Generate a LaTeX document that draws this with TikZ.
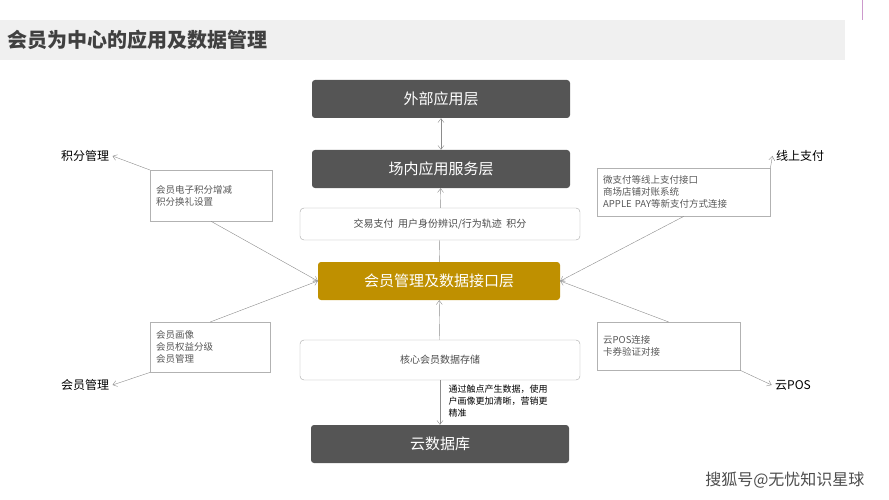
\documentclass[tikz,border=0pt]{standalone}
\usepackage{fontspec}
\setmainfont{Noto Sans CJK SC}
\usetikzlibrary{positioning}
\usetikzlibrary{arrows.meta}
\definecolor{layergray}{HTML}{555555}
\definecolor{layergold}{HTML}{BF9000}
\tikzset{
    layer/.style = {rectangle, rounded corners=3pt, fill=layergray, text=white, minimum width=258pt, minimum height=38pt, font=\fontsize{15}{15}\selectfont},
    layerg/.style = {layer, fill=layergold, minimum width=242pt},
    band/.style = {rectangle, rounded corners=4pt, draw=gray!70, fill=white, minimum width=280pt, text=black!70, font=\fontsize{10}{10}\selectfont},
    note/.style = {rectangle, draw=gray!60, fill=white, align=left, anchor=north west, inner sep=6pt, text=black!65, font=\fontsize{9.5}{12}\selectfont},
    tag/.style = {font=\fontsize{12}{12}\selectfont},
    edgen/.style = {-{Straight Barb[length=4pt,width=6pt]}, draw=gray!90, thin},
    edged/.style = {{Straight Barb[length=4pt,width=6pt]}-{Straight Barb[length=4pt,width=6pt]}, draw=gray!90, thin},
}
\begin{document}
\begin{tikzpicture}[x=1pt,y=-1pt]
  \useasboundingbox (0,0) rectangle (889,500);
  \fill[gray!12] (0,20) rectangle (845,60);
  \draw[violet!40, thick] (862,0) -- (862,20);
  \node[anchor=west, font=\fontsize{20}{20}\selectfont\bfseries, text=black!75] (title) at (4,40) {会员为中心的应用及数据管理};

  % layers
  \node[layer] (ext) at (441,99) {外部应用层};
  \node[layer] (svc) at (441,169) {场内应用服务层};
  \node[band, minimum height=32pt] (pay) at (440,224) {交易支付\ \ 用户身份辨识/行为轨迹\ \ 积分};
  \node[layerg] (mem) at (439,281) {会员管理及数据接口层};
  \node[band, minimum height=40pt] (core) at (440,360) {核心会员数据存储};
  \node[layer] (db) at (440,444) {云数据库};

  % side notes
  \node[note, text width=110pt, minimum height=51pt] (ln1) at (150,170) {会员电子积分增减\\积分换礼设置};
  \node[note, text width=108pt, minimum height=50pt] (ln2) at (150,322) {会员画像\\会员权益分级\\会员管理};
  \node[note, text width=161pt, minimum height=48pt] (rn1) at (597,168) {微支付等线上支付接口\\商场店铺对账系统\\APPLE PAY等新支付方式连接};
  \node[note, text width=131pt, minimum height=48pt] (rn2) at (597,322) {云POS连接\\卡券验证对接};

  \node[tag] (jf) at (85,156) {积分管理};
  \node[tag] (xs) at (800,156) {线上支付};
  \node[tag] (hy) at (85,385) {会员管理};
  \node[tag] (yp) at (793,385) {云POS};

  \node[anchor=north west, align=left, font=\fontsize{9}{12}\selectfont] (txt) at (445,381) {通过触点产生数据，使用\\户画像更加清晰，营销更\\精准};

  % connectors
  \draw[edged] (ext) -- (svc);
  \draw[edgen] (pay) -- (svc);
  \draw[gray!90, thin] (pay) -- (mem);
  \draw[edgen] (core) -- (mem);
  \draw[edgen] (core) -- (db);
  \draw[edgen] (ln1.north west) -- (jf.east);
  \draw[edgen] (ln1.south) -- (mem.west);
  \draw[edgen] (ln2.north) -- (mem.west);
  \draw[edgen] (ln2.south west) -- (hy.east);
  \draw[edgen] (rn1.north east) -- (xs.west);
  \draw[edgen] (rn1.south) -- (mem.east);
  \draw[edgen] (rn2.north) -- (mem.east);
  \draw[edgen] (rn2.south east) -- (yp.west);

  \node[anchor=east, font=\fontsize{16}{16}\selectfont, text=black!70] (mark) at (868,480) {搜狐号@无忧知识星球};
\end{tikzpicture}
\end{document}
